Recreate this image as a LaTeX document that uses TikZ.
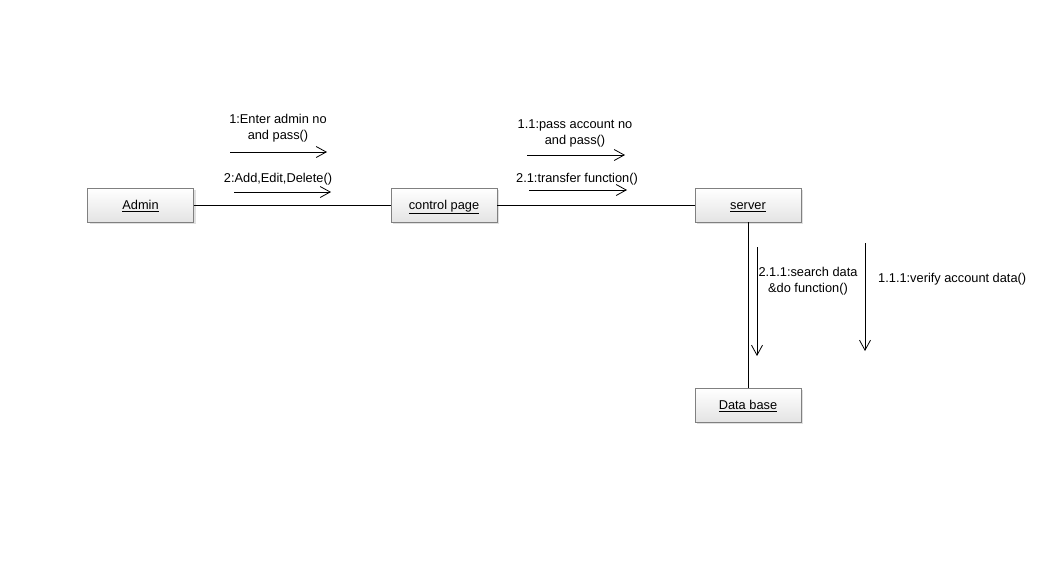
\documentclass[tikz,border=0pt]{standalone}
\usepackage{fontspec}
\setmainfont{Liberation Sans}
\usetikzlibrary{arrows.meta,shadows}
\definecolor{boxborder}{HTML}{808080}
\definecolor{boxbottom}{HTML}{E4E4E4}
\begin{document}
\begin{tikzpicture}[x=1pt,y=-1pt,
  obj/.style={draw=boxborder, line width=0.8pt, top color=white, bottom color=boxbottom,
    minimum width=106pt, minimum height=34pt, inner sep=0pt, text height=11pt, text depth=2pt,
    general shadow={fill=black!12, shadow xshift=2pt, shadow yshift=-2pt},
    font=\fontsize{12.8}{15}\selectfont},
  link/.style={draw=black, line width=0.8pt},
  msg/.style={draw=black, line width=0.8pt, -{Straight Barb[length=10pt,width=11pt,line width=0.8pt]}},
  lbl/.style={font=\fontsize{12.8}{16}\selectfont, align=center, inner sep=0pt}]
\useasboundingbox (0,0) rectangle (1058,560);
\node[obj] (admin) at (140.5,205) {\underline{Admin}};
\node[obj] (ctrl) at (444,205) {\underline{control page}};
\node[obj] (server) at (748,205) {\underline{server}};
\node[obj] (db) at (748,405) {\underline{Data base}};
\draw[link] (admin) -- (ctrl);
\draw[link] (ctrl) -- (server);
\draw[link] (server) -- (db);
% messages
\coordinate (m1s) at (230,152); \coordinate (m1e) at (327,152);
\draw[msg] (m1s) -- (m1e);
\node[lbl] (l1) at (278,128.5) {1:Enter admin no\\and pass()};
\coordinate (m2s) at (234,192); \coordinate (m2e) at (331,192);
\draw[msg] (m2s) -- (m2e);
\node[lbl] (l2) at (278,179) {2:Add,Edit,Delete()};
\coordinate (m3s) at (527,155); \coordinate (m3e) at (625,155);
\draw[msg] (m3s) -- (m3e);
\node[lbl] (l3) at (575,133) {1.1:pass account no\\and pass()};
\coordinate (m4s) at (529,190); \coordinate (m4e) at (627,190);
\draw[msg] (m4s) -- (m4e);
\node[lbl] (l4) at (577,179) {2.1:transfer function()};
\coordinate (m5s) at (757,247); \coordinate (m5e) at (757,356);
\draw[msg] (m5s) -- (m5e);
\node[lbl] (l5) at (808,281) {2.1.1:search data\\\&do function()};
\coordinate (m6s) at (865,243); \coordinate (m6e) at (865,351);
\draw[msg] (m6s) -- (m6e);
\node[lbl, anchor=west] (l6) at (878,279) {1.1.1:verify account data()};
\end{tikzpicture}
\end{document}
